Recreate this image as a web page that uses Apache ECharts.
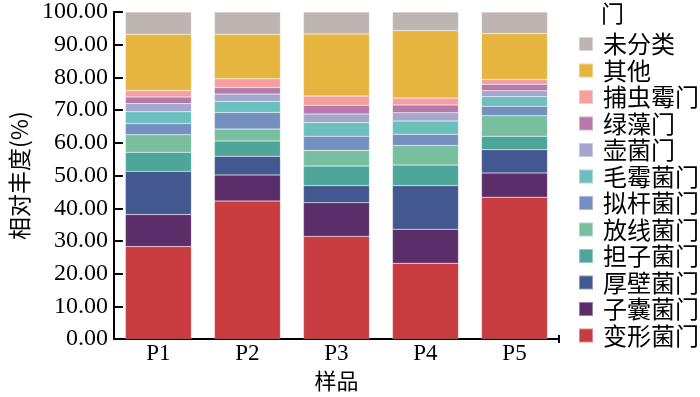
<!DOCTYPE html>
<html>
<head>
<meta charset="utf-8">
<script src="https://cdn.jsdelivr.net/npm/echarts@6/dist/echarts.min.js"></script>
<style>html,body{margin:0;padding:0;background:#fff}#main{width:700px;height:397px}</style>
</head>
<body>
<div id="main"></div>
<script>
var samples = ['P1', 'P2', 'P3', 'P4', 'P5'];
var yTicks = [0, 10, 20, 30, 40, 50, 60, 70, 80, 90, 100];

// stack order, bottom to top
var bianxing = [28.3, 42.2, 31.4, 23.2, 43.4];
var zinang = [9.8, 8.0, 10.3, 10.4, 7.4];
var houbi = [13.2, 5.7, 5.2, 13.3, 7.1];
var danzi = [5.8, 4.7, 6.0, 6.3, 4.1];
var fangxian = [5.4, 3.6, 4.8, 6.0, 6.3];
var nigan = [3.4, 5.1, 4.3, 3.4, 2.9];
var maomei = [3.6, 3.4, 4.2, 4.1, 2.9];
var hujun = [2.5, 2.2, 2.6, 2.5, 1.8];
var lvzao = [2.0, 2.0, 2.7, 2.4, 2.0];
var buchong = [2.0, 2.7, 2.8, 2.1, 1.5];
var qita = [17.2, 13.6, 19.0, 20.6, 14.0];
var weifenlei = [6.8, 6.8, 6.7, 5.7, 6.6];

var names = ['变形菌门', '子囊菌门', '厚壁菌门', '担子菌门', '放线菌门', '拟杆菌门',
    '毛霉菌门', '壶菌门', '绿藻门', '捕虫霉门', '其他', '未分类'];
var values = [bianxing, zinang, houbi, danzi, fangxian, nigan, maomei, hujun, lvzao, buchong, qita, weifenlei];
var colors = ['#c83c3f', '#5b2d69', '#435890', '#4ea59a', '#78bfa0', '#7490c0',
    '#6bbfbd', '#a4a6cd', '#b57aaa', '#f4a09f', '#e6b53f', '#bdb5b1'];

var serif = 'Liberation Serif';
var cjk = 'Noto Sans CJK SC';

var myChart = echarts.init(document.getElementById('main'));

var series = names.map(function (n, i) {
    return {
        name: n,
        type: 'bar',
        stack: 'total',
        barWidth: 66,
        itemStyle: { color: colors[i], borderColor: 'rgba(255,255,255,0.4)', borderWidth: 0.5 },
        data: values[i]
    };
});

var option = {
    animation: false,
    title: {
        text: '门',
        left: 596,
        top: -3,
        textStyle: { fontFamily: cjk, fontSize: 23, fontWeight: 'normal', color: '#000' }
    },
    legend: {
        orient: 'vertical',
        left: 573,
        top: 27,
        icon: 'rect',
        itemWidth: 14,
        itemHeight: 14,
        itemGap: 2.5,
        data: names.slice().reverse(),
        textStyle: { fontFamily: cjk, fontSize: 24, lineHeight: 24, color: '#000', padding: [0, 0, 0, 5] }
    },
    grid: { left: 111, right: 141, top: 10, bottom: 54 },
    xAxis: {
        type: 'category',
        data: samples,
        name: '样品',
        nameLocation: 'middle',
        nameGap: 28,
        nameTextStyle: { fontFamily: cjk, fontSize: 22, color: '#000' },
        axisLine: { lineStyle: { color: '#000', width: 2 } },
        axisTick: { alignWithLabel: true, inside: true, length: 8, lineStyle: { color: '#000', width: 2 } },
        axisLabel: { fontFamily: serif, fontSize: 23, color: '#000', margin: 3 }
    },
    yAxis: {
        type: 'value',
        min: yTicks[0],
        max: yTicks[yTicks.length - 1],
        interval: 10,
        name: '相对丰度(%)',
        nameLocation: 'middle',
        nameGap: 78,
        nameTextStyle: { fontFamily: cjk, fontSize: 23, color: '#000' },
        splitLine: { show: false },
        axisLine: { show: true, lineStyle: { color: '#000', width: 2 } },
        axisTick: { show: true, inside: true, length: 9, lineStyle: { color: '#000', width: 2 } },
        axisLabel: {
            fontFamily: serif, fontSize: 24, color: '#000', margin: 6,
            formatter: function (v) { return v.toFixed(2); }
        }
    },
    graphic: [{
        type: 'line',
        shape: { x1: 559, y1: 335, x2: 559, y2: 343 },
        style: { stroke: '#000', lineWidth: 2 }
    }],
    series: series
};
option && myChart.setOption(option);
</script>
</body>
</html>
